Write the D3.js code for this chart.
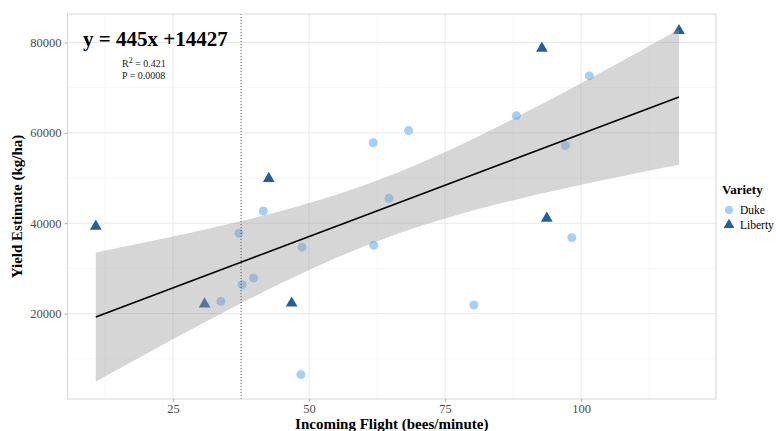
<!DOCTYPE html>
<html>
<head>
<meta charset="utf-8">
<script src="https://cdn.jsdelivr.net/npm/d3@7"></script>
<style>
  body { margin: 0; background: #fff; }
  text { font-family: "Liberation Serif", "Times New Roman", serif; }
</style>
</head>
<body>
<svg id="chart"></svg>
<script>
// values
const dukeFlight = [37.1, 41.6, 48.7, 39.8, 37.7, 33.8, 48.5, 61.8, 68.3, 64.7, 88.1, 101.5, 97.1, 61.9, 80.3, 98.3];
const dukeYield = [37800, 42700, 34700, 27900, 26400, 22700, 6500, 57800, 60500, 45500, 63800, 72600, 57200, 35100, 21900, 36800];
const libertyFlight = [10.8, 42.6, 30.8, 46.8, 92.8, 118.0, 93.7];
const libertyYield = [39300, 49900, 22100, 22300, 78700, 82600, 41100];
const xTicks = [25, 50, 75, 100];
const yTicks = [20000, 40000, 60000, 80000];
const xMinor = [12.5, 37.5, 62.5, 87.5, 112.5];
const yMinor = [10000, 30000, 50000, 70000];
const cutoffFlight = 37.5;
const eqLabel = 'y = 445x +14427';
const r2Label = '0.421';
const pLabel = 'P = 0.0008';

const width = 776, height = 431;
const panel = {left: 67.5, right: 716, top: 14, bottom: 399};

const svg = d3.select('#chart')
    .attr('width', width)
    .attr('height', height);

const x = d3.scaleLinear().domain([5.6, 124.8]).range([panel.left, panel.right]);
const y = d3.scaleLinear().domain([1100, 86300]).range([panel.bottom, panel.top]);

// grid
const grid = svg.append('g');
grid.selectAll('.xminor').data(xMinor).join('line')
    .attr('x1', d => x(d)).attr('x2', d => x(d))
    .attr('y1', panel.top).attr('y2', panel.bottom)
    .attr('stroke', '#f3f3f3').attr('stroke-width', 0.6);
grid.selectAll('.yminor').data(yMinor).join('line')
    .attr('y1', d => y(d)).attr('y2', d => y(d))
    .attr('x1', panel.left).attr('x2', panel.right)
    .attr('stroke', '#f3f3f3').attr('stroke-width', 0.6);
grid.selectAll('.xmajor').data(xTicks).join('line')
    .attr('x1', d => x(d)).attr('x2', d => x(d))
    .attr('y1', panel.top).attr('y2', panel.bottom)
    .attr('stroke', '#e8e8e8').attr('stroke-width', 1);
grid.selectAll('.ymajor').data(yTicks).join('line')
    .attr('y1', d => y(d)).attr('y2', d => y(d))
    .attr('x1', panel.left).attr('x2', panel.right)
    .attr('stroke', '#e8e8e8').attr('stroke-width', 1);

// points
const points = svg.append('g');
points.selectAll('circle').data(d3.zip(dukeFlight, dukeYield)).join('circle')
    .attr('cx', d => x(d[0])).attr('cy', d => y(d[1]))
    .attr('r', 4.5)
    .attr('fill', '#a3d0f7');
const tri = d3.symbol().type(d3.symbolTriangle).size(60);
points.selectAll('path').data(d3.zip(libertyFlight, libertyYield)).join('path')
    .attr('d', tri)
    .attr('transform', d => `translate(${x(d[0])},${y(d[1])})`)
    .attr('fill', '#21609c');

// linear fit with 95% confidence band
const allX = dukeFlight.concat(libertyFlight);
const allY = dukeYield.concat(libertyYield);
const n = allX.length;
const mx = d3.mean(allX), my = d3.mean(allY);
const sxx = d3.sum(allX, v => (v - mx) ** 2);
const sxy = d3.sum(allX.map((v, i) => (v - mx) * (allY[i] - my)));
const slope = sxy / sxx;
const intercept = my - slope * mx;
const sse = d3.sum(allX.map((v, i) => (allY[i] - intercept - slope * v) ** 2));
const s = Math.sqrt(sse / (n - 2));
const tCrit = 2.0796; // t(0.975, df = 21)
const [xLo, xHi] = d3.extent(allX);
const band = d3.range(0, 81).map(i => {
    const xv = xLo + (xHi - xLo) * i / 80;
    const fit = intercept + slope * xv;
    const se = s * Math.sqrt(1 / n + (xv - mx) ** 2 / sxx);
    return {x: xv, fit, lo: fit - tCrit * se, hi: fit + tCrit * se};
});

svg.append('path').datum(band)
    .attr('d', d3.area().x(d => x(d.x)).y0(d => y(d.lo)).y1(d => y(d.hi)))
    .attr('fill', '#999999').attr('fill-opacity', 0.4);
svg.append('path').datum(band)
    .attr('d', d3.line().x(d => x(d.x)).y(d => y(d.fit)))
    .attr('fill', 'none').attr('stroke', '#000').attr('stroke-width', 1.7);

// cutoff line
svg.append('line')
    .attr('x1', x(cutoffFlight)).attr('x2', x(cutoffFlight))
    .attr('y1', panel.top).attr('y2', panel.bottom)
    .attr('stroke', '#333').attr('stroke-width', 0.8)
    .attr('stroke-dasharray', '1,2');

// panel border
svg.append('rect')
    .attr('x', panel.left).attr('y', panel.top)
    .attr('width', panel.right - panel.left).attr('height', panel.bottom - panel.top)
    .attr('fill', 'none').attr('stroke', '#d6d6d6').attr('stroke-width', 1);

// axes
const xAxis = svg.append('g')
    .attr('transform', `translate(0,${panel.bottom})`)
    .call(d3.axisBottom(x).tickValues(xTicks).tickSize(3).tickPadding(2));
const yAxis = svg.append('g')
    .attr('transform', `translate(${panel.left},0)`)
    .call(d3.axisLeft(y).tickValues(yTicks).tickFormat(d3.format('d')).tickSize(3).tickPadding(3));
[xAxis, yAxis].forEach(ax => {
    ax.select('.domain').remove();
    ax.selectAll('.tick line').attr('stroke', '#b3b3b3');
    ax.selectAll('.tick text').attr('fill', '#4d4d4d').style('font-size', '12.5px')
        .style('font-family', '"Liberation Serif", serif');
});

// axis titles
svg.append('text')
    .attr('x', (panel.left + panel.right) / 2).attr('y', 429)
    .attr('text-anchor', 'middle')
    .style('font-size', '15px').style('font-weight', 'bold')
    .text('Incoming Flight (bees/minute)');
svg.append('text')
    .attr('transform', `translate(22,${(panel.top + panel.bottom) / 2}) rotate(-90)`)
    .attr('text-anchor', 'middle')
    .style('font-size', '15px').style('font-weight', 'bold')
    .text('Yield Estimate (kg/ha)');

// annotations
svg.append('text')
    .attr('x', 83).attr('y', 46)
    .style('font-size', '21px').style('font-weight', 'bold')
    .text(eqLabel);
const r2 = svg.append('text')
    .attr('x', 122).attr('y', 67)
    .style('font-size', '10px').attr('fill', '#222');
r2.append('tspan').text('R');
r2.append('tspan').attr('dy', -4).style('font-size', '8px').text('2');
r2.append('tspan').attr('dy', 4).text(' = ' + r2Label);
svg.append('text')
    .attr('x', 122).attr('y', 79)
    .style('font-size', '10px').attr('fill', '#222')
    .text(pLabel);

// legend
const legend = svg.append('g').attr('transform', 'translate(722,0)');
legend.append('text').attr('x', 0).attr('y', 194)
    .style('font-size', '13px').style('font-weight', 'bold').text('Variety');
legend.append('circle').attr('cx', 7).attr('cy', 210).attr('r', 4).attr('fill', '#a3d0f7');
legend.append('path').attr('d', d3.symbol().type(d3.symbolTriangle).size(50))
    .attr('transform', 'translate(7,225)').attr('fill', '#21609c');
legend.append('text').attr('x', 18).attr('y', 214).style('font-size', '11.5px').text('Duke');
legend.append('text').attr('x', 18).attr('y', 229).style('font-size', '11.5px').text('Liberty');
</script>
</body>
</html>
